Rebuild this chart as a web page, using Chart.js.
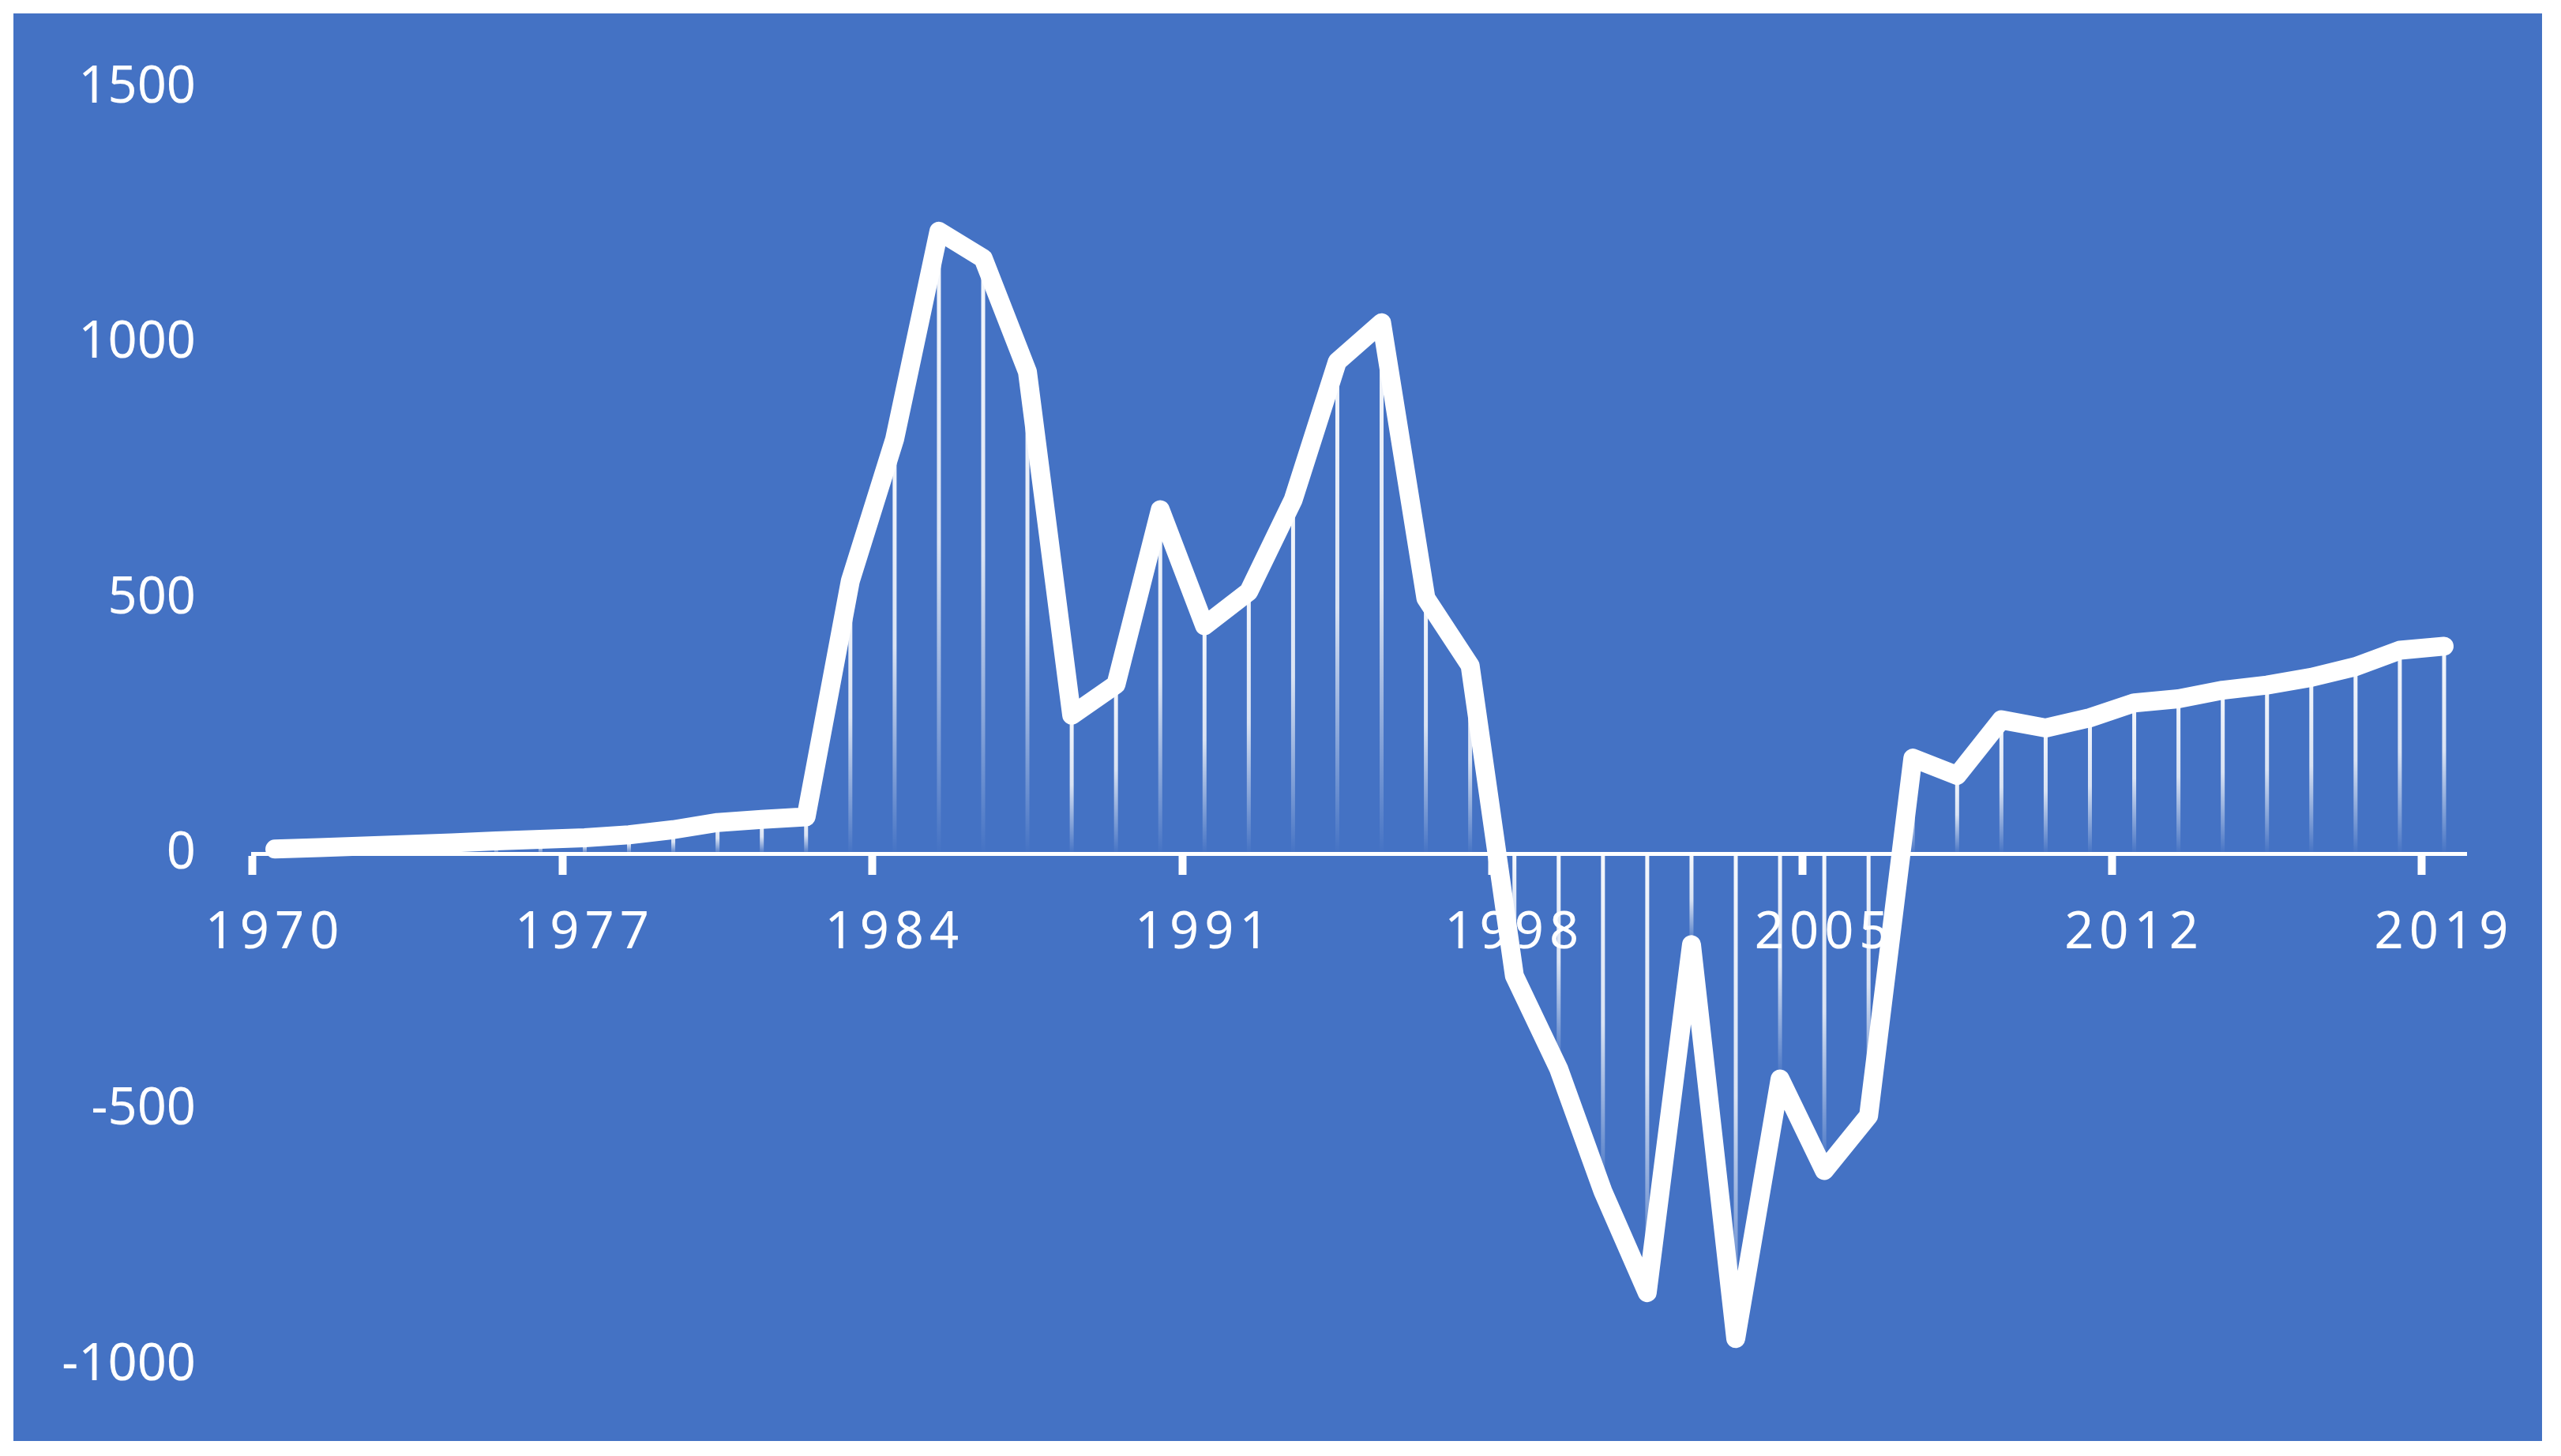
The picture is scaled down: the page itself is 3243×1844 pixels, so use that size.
<!DOCTYPE html>
<html>
<head>
<meta charset="utf-8">
<script src="https://cdn.jsdelivr.net/npm/chart.js@4.4.1/dist/chart.umd.min.js"></script>
<style>
  html, body { margin: 0; padding: 0; background: #ffffff; }
  #wrap { width: 3243px; height: 1844px; }
</style>
</head>
<body>
<div id="wrap"><canvas id="chart" width="3243" height="1844"></canvas></div>
<script>
// 年份 (categories)
var years = ['1970', '1971', '1972', '1973', '1974', '1975', '1976', '1977', '1978', '1979',
  '1980', '1981', '1982', '1983', '1984', '1985', '1986', '1987', '1988', '1989',
  '1990', '1991', '1992', '1993', '1994', '1995', '1996', '1997', '1998', '1999',
  '2000', '2001', '2002', '2003', '2004', '2005', '2006', '2007', '2008', '2009',
  '2010', '2011', '2012', '2013', '2014', '2015', '2016', '2017', '2018', '2019'];

// series values
var values = [10, 13, 16, 19, 22, 26, 29, 32, 38, 48,
  62, 68, 73, 535, 812, 1219, 1166, 944, 272, 332,
  674, 447, 514, 693, 964, 1040, 501, 369, -238, -420,
  -660, -858, -177, -948, -440, -619, -512, 188, 154, 263,
  247, 267, 296, 304, 321, 331, 346, 367, 399, 407];

// tick labels
var xTickLabels = ['1970', '1977', '1984', '1991', '1998', '2005', '2012', '2019'];
var yTicks = [-1000, -500, 0, 500, 1000, 1500];

var BLUE = '#4472C4';

//背景
var bgPlugin = {
  id: 'bgPlugin',
  beforeDraw: function (chart) {
    var ctx = chart.ctx;
    ctx.save();
    ctx.fillStyle = '#ffffff';
    ctx.fillRect(0, 0, chart.width, chart.height);
    ctx.fillStyle = BLUE;
    ctx.fillRect(17, 17, 3202, 1808);
    ctx.restore();
  }
};

//垂直線 (drop lines)
var dropLines = {
  id: 'dropLines',
  beforeDatasetsDraw: function (chart) {
    var ctx = chart.ctx;
    var zero = chart.scales.y.getPixelForValue(0);
    ctx.save();
    chart.getDatasetMeta(0).data.forEach(function (pt) {
      var top = Math.min(pt.y, zero);
      var bottom = Math.max(pt.y, zero);
      if (bottom - top < 2) return;
      var g = ctx.createLinearGradient(0, top, 0, bottom);
      g.addColorStop(0, 'rgba(255,255,255,0.95)');
      g.addColorStop(0.5, 'rgba(255,255,255,0.8)');
      g.addColorStop(1, 'rgba(255,255,255,0)');
      ctx.strokeStyle = g;
      ctx.lineWidth = 5;
      ctx.beginPath();
      ctx.moveTo(pt.x, top);
      ctx.lineTo(pt.x, bottom);
      ctx.stroke();
    });
    ctx.restore();
  },
  // x labels are spaced out a bit
  afterDatasetsDraw: function (chart) {
    chart.ctx.letterSpacing = '7px';
  },
  afterDraw: function (chart) {
    chart.ctx.letterSpacing = '0px';
  }
};

Chart.defaults.font.family = '"Noto Sans", sans-serif';

var chart = new Chart(document.getElementById('chart').getContext('2d'), {
  type: 'line',
  data: {
    labels: years,
    datasets: [{
      data: values,
      borderColor: '#ffffff',
      borderWidth: 24,
      borderJoinStyle: 'round',
      borderCapStyle: 'round',
      pointRadius: 0,
      tension: 0,
      fill: false,
      clip: false
    }]
  },
  options: {
    responsive: false,
    animation: false,
    layout: { padding: { left: 0, right: 120, top: 110, bottom: 115 } },
    plugins: { legend: { display: false }, tooltip: { enabled: false } },
    scales: {
      x: {
        type: 'category',
        position: { y: 0 },
        offset: true,
        grid: {
          offset: true,
          drawOnChartArea: false,
          drawTicks: true,
          tickLength: 24,
          tickWidth: 10,
          color: 'rgba(0,0,0,0)',
          tickColor: function (c) {
            if (c.tick && xTickLabels.indexOf(c.tick.label) >= 0) return '#ffffff';
            return 'rgba(0,0,0,0)';
          }
        },
        border: { display: true, color: '#ffffff', width: 5 },
        ticks: {
          z: 1,
          autoSkip: false,
          maxRotation: 0,
          color: '#ffffff',
          font: { size: 65 },
          padding: 38,
          callback: function (val, i) {
            var lab = this.getLabelForValue(val);
            return xTickLabels.indexOf(lab) >= 0 ? lab : '';
          }
        }
      },
      y: {
        min: -1000,
        max: 1500,
        afterFit: function (scale) { scale.width = 320; },
        afterBuildTicks: function (scale) {
          scale.ticks = yTicks.map(function (v) { return { value: v }; });
        },
        grid: { display: false, drawTicks: false },
        border: { display: false },
        ticks: {
          color: '#ffffff',
          font: { size: 65 },
          padding: 72,
          callback: function (v) { return String(v); }
        }
      }
    }
  },
  plugins: [bgPlugin, dropLines]
});
</script>
</body>
</html>
